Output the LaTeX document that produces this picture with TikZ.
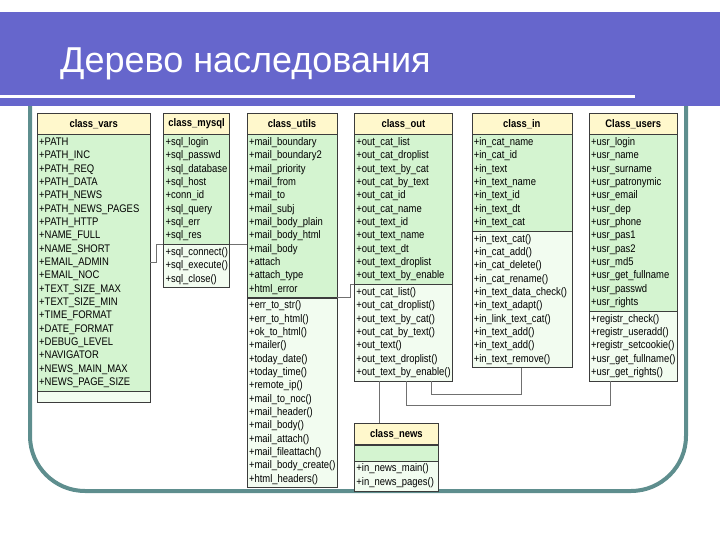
\documentclass[tikz,border=0pt]{standalone}
\usepackage{fontspec}
\setmainfont{Liberation Sans}
\newfontfamily\umlfont[FakeStretch=0.86]{Liberation Sans}
\usetikzlibrary{positioning,calc}
\definecolor{band}{HTML}{6666CC}
\definecolor{frame}{HTML}{5E8E8E}
\definecolor{umlline}{HTML}{3C3C3C}
\definecolor{umlhead}{HTML}{FFF8CC}
\definecolor{umlattr}{HTML}{D4F4D0}
\definecolor{umlmeth}{HTML}{F2FCF0}
\definecolor{linkgray}{HTML}{707070}
\tikzset{
head/.style = {draw=umlline, fill=umlhead, text width=#1, align=center, inner xsep=2pt, inner ysep=0pt, minimum height=21pt, font=\umlfont\fontsize{11}{13.33}\selectfont\bfseries},
part/.style = {draw=umlline, text width=#1, align=left, inner xsep=2pt, inner ysep=1.5pt, font=\umlfont\fontsize{11}{13.33}\selectfont},
attr/.style = {part=#1, fill=umlattr, execute at begin node=\strut, execute at end node=\strut},
meth/.style = {part=#1, fill=umlmeth, execute at begin node=\strut, execute at end node=\strut},
blank/.style = {part=#1, fill=umlattr, minimum height=11pt},
link/.style = {draw=linkgray, line width=0.8pt}
}

\begin{document}
\begin{tikzpicture}[x=1pt, y=-1pt]
  \useasboundingbox (0,0) rectangle (720,540);
  % slide background
  \draw [frame, line width=4pt, rounded corners=55pt] (30,100) -- (30,491) -- (686,491) -- (686,100);
  \fill [band] (0,12) rectangle (720,106);
  \draw [white, line width=3pt] (0,97) -- (635,97);
  \node [anchor=base west, text=white, inner sep=0pt, font=\fontsize{36}{40}\selectfont] (title) at (60,73) {Дерево наследования};

  % class headers
  \node [head=109pt, anchor=north west] (vars) at (37,113) {class\_vars};
  \node [head=62pt, right=13pt of vars] (mysql) {class\_mysql};
  \node [head=86pt, right=17pt of mysql] (utils) {class\_utils};
  \node [head=94pt, right=17pt of utils] (out) {class\_out};
  \node [head=96pt, right=19pt of out] (in) {class\_in};
  \node [head=84pt, right=17pt of in] (users) {Class\_users};

  % class_vars
  \node [attr=109pt, below=0pt of vars] (vars-a) {+PATH\\+PATH\_INC\\+PATH\_REQ\\+PATH\_DATA\\+PATH\_NEWS\\+PATH\_NEWS\_PAGES\\+PATH\_HTTP\\+NAME\_FULL\\+NAME\_SHORT\\+EMAIL\_ADMIN\\+EMAIL\_NOC\\+TEXT\_SIZE\_MAX\\+TEXT\_SIZE\_MIN\\+TIME\_FORMAT\\+DATE\_FORMAT\\+DEBUG\_LEVEL\\+NAVIGATOR\\+NEWS\_MAIN\_MAX\\+NEWS\_PAGE\_SIZE};
  \node [blank=109pt, fill=umlmeth, below=0pt of vars-a] (vars-m) {};

  % class_mysql
  \node [attr=62pt, below=0pt of mysql] (mysql-a) {+sql\_login\\+sql\_passwd\\+sql\_database\\+sql\_host\\+conn\_id\\+sql\_query\\+sql\_err\\+sql\_res};
  \node [meth=62pt, below=0pt of mysql-a] (mysql-m) {+sql\_connect()\\+sql\_execute()\\+sql\_close()};

  % class_utils
  \node [attr=86pt, below=0pt of utils] (utils-a) {+mail\_boundary\\+mail\_boundary2\\+mail\_priority\\+mail\_from\\+mail\_to\\+mail\_subj\\+mail\_body\_plain\\+mail\_body\_html\\+mail\_body\\+attach\\+attach\_type\\+html\_error};
  \node [meth=86pt, below=0pt of utils-a] (utils-m) {+err\_to\_str()\\+err\_to\_html()\\+ok\_to\_html()\\+mailer()\\+today\_date()\\+today\_time()\\+remote\_ip()\\+mail\_to\_noc()\\+mail\_header()\\+mail\_body()\\+mail\_attach()\\+mail\_fileattach()\\+mail\_body\_create()\\+html\_headers()};

  % class_out
  \node [attr=94pt, below=0pt of out] (out-a) {+out\_cat\_list\\+out\_cat\_droplist\\+out\_text\_by\_cat\\+out\_cat\_by\_text\\+out\_cat\_id\\+out\_cat\_name\\+out\_text\_id\\+out\_text\_name\\+out\_text\_dt\\+out\_text\_droplist\\+out\_text\_by\_enable};
  \node [meth=94pt, below=0pt of out-a] (out-m) {+out\_cat\_list()\\+out\_cat\_droplist()\\+out\_text\_by\_cat()\\+out\_cat\_by\_text()\\+out\_text()\\+out\_text\_droplist()\\+out\_text\_by\_enable()};

  % class_in
  \node [attr=96pt, below=0pt of in] (in-a) {+in\_cat\_name\\+in\_cat\_id\\+in\_text\\+in\_text\_name\\+in\_text\_id\\+in\_text\_dt\\+in\_text\_cat};
  \node [meth=96pt, below=0pt of in-a] (in-m) {+in\_text\_cat()\\+in\_cat\_add()\\+in\_cat\_delete()\\+in\_cat\_rename()\\+in\_text\_data\_check()\\+in\_text\_adapt()\\+in\_link\_text\_cat()\\+in\_text\_add()\\+in\_text\_add()\\+in\_text\_remove()};

  % class_users
  \node [attr=84pt, below=0pt of users] (users-a) {+usr\_login\\+usr\_name\\+usr\_surname\\+usr\_patronymic\\+usr\_email\\+usr\_dep\\+usr\_phone\\+usr\_pas1\\+usr\_pas2\\+usr\_md5\\+usr\_get\_fullname\\+usr\_passwd\\+usr\_rights};
  \node [meth=84pt, below=0pt of users-a] (users-m) {+registr\_check()\\+registr\_useradd()\\+registr\_setcookie()\\+usr\_get\_fullname()\\+usr\_get\_rights()};

  % class_news
  \node [head=80pt, below=42pt of out-m.south west, anchor=north west] (news) {class\_news};
  \node [blank=80pt, minimum height=16pt, below=0pt of news] (news-a) {};
  \node [meth=80pt, below=0pt of news-a] (news-m) {+in\_news\_main()\\+in\_news\_pages()};

  % inheritance links
  \draw [link] (vars-a.east) -- ++(6,0) |- (mysql-a.south west);
  \draw [link] (mysql-a.south east) -- (mysql-a.south east -| utils-a.west);
  \draw [link] (utils-a.south east) -- ++(13,0) |- (out-a.south west);
  \draw [link] ([xshift=25pt]news.north west) -- ([xshift=25pt]out-m.south west);
  \draw [link] ([xshift=-21pt]out-m.south east) -- ++(0,13) -| (in-m.south);
  \draw [link] ([xshift=52pt]out-m.south west) -- ++(0,24) -| ([xshift=21pt]users-m.south west);
\end{tikzpicture}
\end{document}
